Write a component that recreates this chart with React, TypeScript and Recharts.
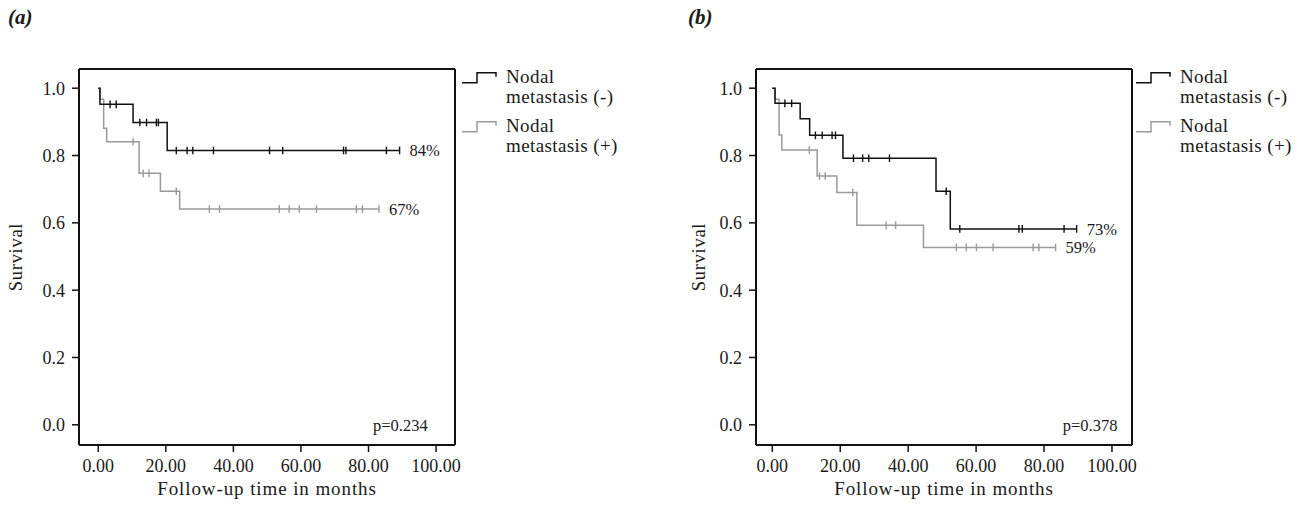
import React from 'react';
import {
  ComposedChart,
  Line,
  Scatter,
  XAxis,
  YAxis,
  ReferenceLine,
  ReferenceDot,
  Legend,
  Label,
} from 'recharts';

// ---------- tick labels / categories ----------
const xTicks = [0, 20, 40, 60, 80, 100];
const yTicks = [0, 0.2, 0.4, 0.6, 0.8, 1.0];
const legendLines = [
  ['Nodal', 'metastasis (-)'],
  ['Nodal', 'metastasis (+)'],
];
const panelTitles = ['(a)', '(b)'];
const pValues = ['p=0.234', 'p=0.378'];
const endLabelsA = ['84%', '67%'];
const endLabelsB = ['73%', '59%'];

// ---------- panel (a) ----------
const aNegTimes = [0, 0.5, 10.3, 20.4, 89.2];
const aNegSurv = [1.0, 0.952, 0.898, 0.815, 0.815];
const aNegCensor = [3.5, 5.3, 12.3, 14.3, 17.2, 17.8, 23.1, 26.3, 28.0, 34.1, 50.7, 54.6, 72.6, 73.3, 85.3, 89.2];

const aPosTimes = [0, 0.5, 1.6, 2.5, 12.1, 18.4, 24.1, 83.1];
const aPosSurv = [1.0, 0.967, 0.881, 0.841, 0.747, 0.694, 0.641, 0.641];
const aPosCensor = [10.3, 13.3, 15.0, 23.1, 32.9, 35.9, 53.6, 56.5, 59.5, 64.6, 76.4, 78.2, 83.1];

// ---------- panel (b) ----------
const bNegTimes = [0, 0.8, 8.2, 11.0, 20.8, 48.2, 52.4, 89.6];
const bNegSurv = [1.0, 0.955, 0.909, 0.860, 0.792, 0.694, 0.582, 0.582];
const bNegCensor = [3.7, 5.7, 12.7, 14.7, 17.6, 18.6, 23.9, 26.6, 28.4, 34.5, 51.2, 55.2, 72.6, 73.6, 85.9, 89.6];

const bPosTimes = [0, 0.8, 2.0, 2.8, 13.2, 19.0, 24.9, 44.5, 83.4];
const bPosSurv = [1.0, 0.967, 0.861, 0.816, 0.739, 0.690, 0.593, 0.527, 0.527];
const bPosCensor = [10.9, 13.9, 15.6, 23.7, 33.5, 36.3, 54.2, 57.1, 60.1, 65.0, 76.8, 78.5, 83.4];

// ---------- styling ----------
const FONT = "'Liberation Serif', 'Times New Roman', serif";
const BLACK = '#111111';
const GRAY = '#9a9a9a';
const seriesColors = [BLACK, GRAY];
const TEXT = '#1a1a1a';

const toPoints = (times: number[], surv: number[]) =>
  times.map((t, i) => ({ x: t, y: surv[i] }));

const survAt = (times: number[], surv: number[], t: number) => {
  let v = surv[0];
  for (let i = 0; i < times.length; i++) {
    if (times[i] <= t) v = surv[i];
  }
  return v;
};

const censorPoints = (times: number[], surv: number[], cens: number[]) =>
  cens.map((t) => ({ x: t, y: survAt(times, surv, t) }));

const makeTick = (color: string) => (props: any) => {
  const { cx, cy } = props;
  if (cx == null || cy == null) return <g />;
  return <line x1={cx} x2={cx} y1={cy - 3.8} y2={cy + 3.8} stroke={color} strokeWidth={1.4} />;
};

const LegendContent = () => (
  <div style={{ fontFamily: FONT, fontSize: 19, color: TEXT, lineHeight: '20px', letterSpacing: 0.4 }}>
    {legendLines.map((lines, i) => (
      <div key={i} style={{ position: 'relative', paddingLeft: 44, marginBottom: 9, whiteSpace: 'nowrap' }}>
        <svg width={40} height={16} style={{ position: 'absolute', left: 0, top: 4 }}>
          <polyline
            points="0,11.7 15,11.7 15,1.7 34,1.7 34,5.7"
            fill="none"
            stroke={seriesColors[i]}
            strokeWidth={1.5}
          />
        </svg>
        {lines.map((l) => (
          <div key={l}>{l}</div>
        ))}
      </div>
    ))}
  </div>
);

type PanelProps = {
  left: number;
  width: number;
  marginLeft: number;
  marginRight: number;
  xDomain: [number, number];
  neg: { t: number[]; s: number[]; c: number[] };
  pos: { t: number[]; s: number[]; c: number[] };
  endLabels: string[];
  pValue: string;
  pX: number;
  survivalX: number;
  legendLeft: number;
  title: string;
};

const Y_DOMAIN: [number, number] = [-0.06, 1.057];

const Panel = (p: PanelProps) => {
  const negLine = toPoints(p.neg.t, p.neg.s);
  const posLine = toPoints(p.pos.t, p.pos.s);
  const negCens = censorPoints(p.neg.t, p.neg.s, p.neg.c);
  const posCens = censorPoints(p.pos.t, p.pos.s, p.pos.c);
  const negEnd = negLine[negLine.length - 1];
  const posEnd = posLine[posLine.length - 1];
  return (
    <div style={{ position: 'absolute', left: p.left, top: 0, width: p.width, height: 505 }}>
      <div
        style={{
          position: 'absolute',
          left: 8,
          top: 5,
          fontFamily: FONT,
          fontSize: 21,
          fontWeight: 'bold',
          fontStyle: 'italic',
          color: TEXT,
          zIndex: 2,
        }}
      >
        {p.title}
      </div>
      <ComposedChart
        width={p.width}
        height={505}
        margin={{ top: 69, right: p.marginRight, bottom: 5, left: p.marginLeft }}
      >
        <XAxis
          type="number"
          dataKey="x"
          domain={p.xDomain}
          allowDataOverflow
          ticks={xTicks}
          tickFormatter={(v: number) => v.toFixed(2)}
          axisLine={{ stroke: BLACK, strokeWidth: 2 }}
          tickLine={{ stroke: BLACK, strokeWidth: 1.5 }}
          tickSize={7}
          tickMargin={7}
          height={55}
          tick={{ fill: TEXT, fontSize: 18, fontFamily: FONT }}
        >
          <Label
            content={(lp: any) => {
              const vb = lp.viewBox || {};
              return (
                <text
                  x={vb.x + vb.width / 2}
                  y={495}
                  textAnchor="middle"
                  fill={TEXT}
                  fontSize={19}
                  fontFamily={FONT}
                  letterSpacing={0.9}
                >
                  Follow-up time in months
                </text>
              );
            }}
          />
        </XAxis>
        <YAxis
          type="number"
          dataKey="y"
          domain={Y_DOMAIN}
          allowDataOverflow
          ticks={yTicks}
          tickFormatter={(v: number) => v.toFixed(1)}
          axisLine={{ stroke: BLACK, strokeWidth: 2 }}
          tickLine={{ stroke: BLACK, strokeWidth: 1.5 }}
          tickSize={7}
          tickMargin={7}
          width={60}
          tick={{ fill: TEXT, fontSize: 18, fontFamily: FONT }}
        >
          <Label
            content={(lp: any) => {
              const vb = lp.viewBox || {};
              const cy = vb.y + vb.height / 2;
              return (
                <text
                  x={p.survivalX}
                  y={cy}
                  transform={`rotate(-90 ${p.survivalX} ${cy})`}
                  textAnchor="middle"
                  dominantBaseline="central"
                  fill={TEXT}
                  fontSize={18.5}
                  fontFamily={FONT}
                  letterSpacing={0.7}
                >
                  Survival
                </text>
              );
            }}
          />
        </YAxis>
        <ReferenceLine y={Y_DOMAIN[1]} stroke={BLACK} strokeWidth={2} />
        <ReferenceLine x={p.xDomain[1]} stroke={BLACK} strokeWidth={2} />
        <Line
          data={posLine}
          dataKey="y"
          type="stepAfter"
          stroke={GRAY}
          strokeWidth={1.5}
          dot={false}
          activeDot={false}
          isAnimationActive={false}
        />
        <Line
          data={negLine}
          dataKey="y"
          type="stepAfter"
          stroke={BLACK}
          strokeWidth={1.5}
          dot={false}
          activeDot={false}
          isAnimationActive={false}
        />
        <Scatter data={posCens} dataKey="y" shape={makeTick(GRAY)} isAnimationActive={false} />
        <Scatter data={negCens} dataKey="y" shape={makeTick(BLACK)} isAnimationActive={false} />
        <ReferenceDot
          x={negEnd.x}
          y={negEnd.y}
          r={1}
          fill="none"
          stroke="none"
          label={{ value: p.endLabels[0], position: 'right', offset: 9, fill: TEXT, fontSize: 16.5, fontFamily: FONT }}
        />
        <ReferenceDot
          x={posEnd.x}
          y={posEnd.y}
          r={1}
          fill="none"
          stroke="none"
          label={{ value: p.endLabels[1], position: 'right', offset: 9, fill: TEXT, fontSize: 16.5, fontFamily: FONT }}
        />
        <ReferenceDot
          x={p.pX}
          y={0}
          r={1}
          fill="none"
          stroke="none"
          label={{ value: p.pValue, position: 'left', offset: 0, fill: TEXT, fontSize: 16.5, fontFamily: FONT }}
        />
        <Legend
          layout="vertical"
          align="center"
          verticalAlign="middle"
          wrapperStyle={{ left: p.legendLeft, top: 67, width: 175, right: 'auto', bottom: 'auto' }}
          content={() => <LegendContent />}
        />
      </ComposedChart>
    </div>
  );
};

export default function App() {
  return (
    <div style={{ position: 'absolute', left: 0, top: 0, width: 1315, height: 505, background: '#fff' }}>
      <Panel
        left={0}
        width={680}
        marginLeft={19}
        marginRight={225}
        xDomain={[-5.7, 105.6]}
        neg={{ t: aNegTimes, s: aNegSurv, c: aNegCensor }}
        pos={{ t: aPosTimes, s: aPosSurv, c: aPosCensor }}
        endLabels={endLabelsA}
        pValue={pValues[0]}
        pX={97.8}
        survivalX={15.5}
        legendLeft={462}
        title={panelTitles[0]}
      />
      <Panel
        left={680}
        width={635}
        marginLeft={16}
        marginRight={183}
        xDomain={[-4.8, 105.9]}
        neg={{ t: bNegTimes, s: bNegSurv, c: bNegCensor }}
        pos={{ t: bPosTimes, s: bPosSurv, c: bPosCensor }}
        endLabels={endLabelsB}
        pValue={pValues[1]}
        pX={101.9}
        survivalX={19}
        legendLeft={456}
        title={panelTitles[1]}
      />
    </div>
  );
}
